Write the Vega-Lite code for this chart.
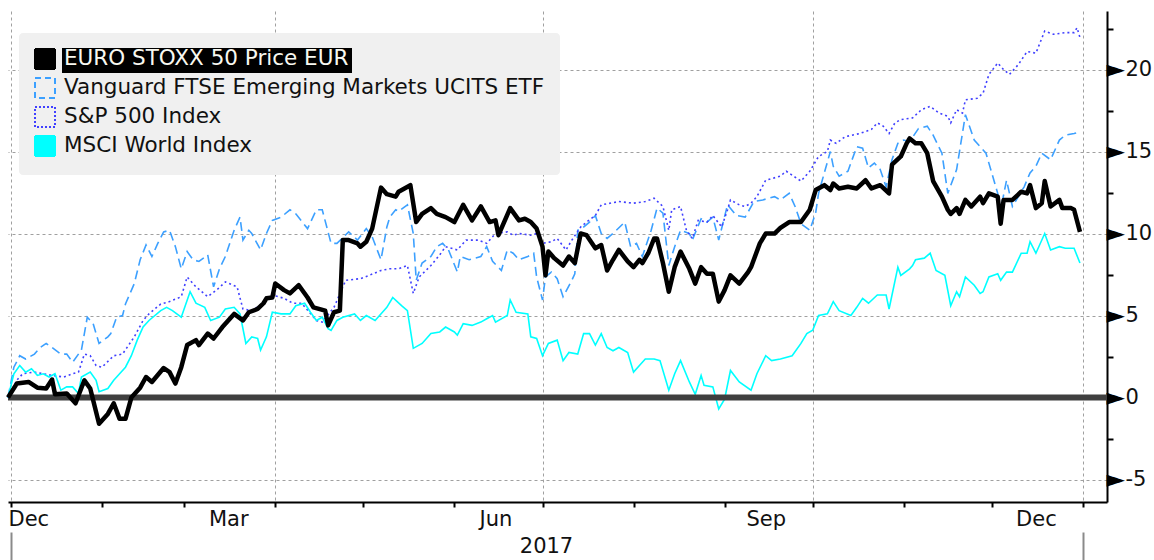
{
"$schema": "https://vega.github.io/schema/vega-lite/v6.json",
"autosize": {"type": "none"},
"padding": {"left": 8, "top": 11, "right": 47, "bottom": 58},
"width": 1099,
"height": 491,
"background": "white",
"config": {"view": {"stroke": null}, "font": "DejaVu Sans"},
"datasets": {
"esx": [{"date":"2016-12-31","pct":0},{"date":"2017-01-03","pct":0.85},{"date":"2017-01-07","pct":0.95},{"date":"2017-01-10","pct":0.6},{"date":"2017-01-13","pct":0.55},{"date":"2017-01-15","pct":1.1},{"date":"2017-01-16","pct":0.2},{"date":"2017-01-20","pct":0.25},{"date":"2017-01-23","pct":-0.35},{"date":"2017-01-26","pct":1.05},{"date":"2017-01-28","pct":0.55},{"date":"2017-01-31","pct":-1.6},{"date":"2017-02-03","pct":-1.0},{"date":"2017-02-05","pct":-0.35},{"date":"2017-02-07","pct":-1.3},{"date":"2017-02-09","pct":-1.3},{"date":"2017-02-11","pct":0.0},{"date":"2017-02-14","pct":0.6},{"date":"2017-02-16","pct":1.25},{"date":"2017-02-18","pct":0.95},{"date":"2017-02-22","pct":1.8},{"date":"2017-02-24","pct":1.55},{"date":"2017-02-26","pct":0.85},{"date":"2017-02-28","pct":1.85},{"date":"2017-03-02","pct":3.2},{"date":"2017-03-05","pct":3.5},{"date":"2017-03-06","pct":3.2},{"date":"2017-03-09","pct":3.9},{"date":"2017-03-11","pct":3.6},{"date":"2017-03-14","pct":4.3},{"date":"2017-03-16","pct":4.7},{"date":"2017-03-18","pct":5.1},{"date":"2017-03-21","pct":4.7},{"date":"2017-03-23","pct":5.2},{"date":"2017-03-26","pct":5.4},{"date":"2017-03-28","pct":5.75},{"date":"2017-03-29","pct":6.05},{"date":"2017-03-31","pct":6.1},{"date":"2017-04-01","pct":6.95},{"date":"2017-04-04","pct":6.55},{"date":"2017-04-06","pct":6.35},{"date":"2017-04-09","pct":6.85},{"date":"2017-04-12","pct":6.1},{"date":"2017-04-14","pct":5.5},{"date":"2017-04-18","pct":5.3},{"date":"2017-04-19","pct":4.4},{"date":"2017-04-21","pct":5.2},{"date":"2017-04-23","pct":5.3},{"date":"2017-04-24","pct":9.6},{"date":"2017-04-26","pct":9.6},{"date":"2017-04-29","pct":9.4},{"date":"2017-04-30","pct":9.2},{"date":"2017-05-02","pct":9.5},{"date":"2017-05-04","pct":10.3},{"date":"2017-05-07","pct":12.8},{"date":"2017-05-09","pct":12.4},{"date":"2017-05-12","pct":12.25},{"date":"2017-05-13","pct":12.55},{"date":"2017-05-17","pct":12.95},{"date":"2017-05-19","pct":10.7},{"date":"2017-05-21","pct":11.2},{"date":"2017-05-24","pct":11.55},{"date":"2017-05-26","pct":11.2},{"date":"2017-05-29","pct":11.0},{"date":"2017-06-01","pct":10.7},{"date":"2017-06-04","pct":11.75},{"date":"2017-06-07","pct":10.8},{"date":"2017-06-10","pct":11.65},{"date":"2017-06-13","pct":10.7},{"date":"2017-06-15","pct":10.8},{"date":"2017-06-16","pct":9.9},{"date":"2017-06-20","pct":11.55},{"date":"2017-06-23","pct":10.8},{"date":"2017-06-25","pct":10.9},{"date":"2017-06-27","pct":10.7},{"date":"2017-06-29","pct":10.3},{"date":"2017-07-01","pct":9.2},{"date":"2017-07-02","pct":7.45},{"date":"2017-07-03","pct":8.9},{"date":"2017-07-05","pct":8.5},{"date":"2017-07-08","pct":8.05},{"date":"2017-07-10","pct":8.6},{"date":"2017-07-12","pct":8.2},{"date":"2017-07-14","pct":10.0},{"date":"2017-07-16","pct":9.9},{"date":"2017-07-19","pct":9.1},{"date":"2017-07-21","pct":9.3},{"date":"2017-07-23","pct":7.75},{"date":"2017-07-25","pct":8.4},{"date":"2017-07-27","pct":9.0},{"date":"2017-07-30","pct":8.3},{"date":"2017-08-01","pct":7.95},{"date":"2017-08-03","pct":8.4},{"date":"2017-08-04","pct":8.2},{"date":"2017-08-06","pct":8.8},{"date":"2017-08-08","pct":9.7},{"date":"2017-08-09","pct":9.7},{"date":"2017-08-11","pct":8.2},{"date":"2017-08-13","pct":6.45},{"date":"2017-08-15","pct":7.95},{"date":"2017-08-17","pct":8.9},{"date":"2017-08-20","pct":7.85},{"date":"2017-08-22","pct":6.95},{"date":"2017-08-24","pct":7.95},{"date":"2017-08-26","pct":7.55},{"date":"2017-08-28","pct":7.55},{"date":"2017-08-30","pct":5.85},{"date":"2017-09-01","pct":6.55},{"date":"2017-09-03","pct":7.45},{"date":"2017-09-06","pct":6.95},{"date":"2017-09-09","pct":7.65},{"date":"2017-09-10","pct":7.95},{"date":"2017-09-13","pct":9.4},{"date":"2017-09-15","pct":10.0},{"date":"2017-09-18","pct":10.0},{"date":"2017-09-20","pct":10.35},{"date":"2017-09-23","pct":10.7},{"date":"2017-09-27","pct":10.7},{"date":"2017-09-30","pct":11.45},{"date":"2017-10-02","pct":12.65},{"date":"2017-10-04","pct":12.85},{"date":"2017-10-05","pct":12.95},{"date":"2017-10-07","pct":12.65},{"date":"2017-10-08","pct":13.05},{"date":"2017-10-10","pct":12.75},{"date":"2017-10-13","pct":12.85},{"date":"2017-10-16","pct":12.75},{"date":"2017-10-19","pct":13.25},{"date":"2017-10-21","pct":12.75},{"date":"2017-10-24","pct":12.95},{"date":"2017-10-27","pct":12.45},{"date":"2017-10-28","pct":14.2},{"date":"2017-10-31","pct":14.7},{"date":"2017-11-02","pct":15.5},{"date":"2017-11-03","pct":15.8},{"date":"2017-11-05","pct":15.5},{"date":"2017-11-07","pct":15.5},{"date":"2017-11-09","pct":14.9},{"date":"2017-11-11","pct":13.2},{"date":"2017-11-14","pct":12.25},{"date":"2017-11-16","pct":11.45},{"date":"2017-11-17","pct":11.2},{"date":"2017-11-19","pct":11.55},{"date":"2017-11-20","pct":11.2},{"date":"2017-11-22","pct":12.05},{"date":"2017-11-24","pct":11.65},{"date":"2017-11-27","pct":12.25},{"date":"2017-11-28","pct":11.85},{"date":"2017-11-30","pct":12.45},{"date":"2017-12-03","pct":12.25},{"date":"2017-12-04","pct":10.6},{"date":"2017-12-05","pct":12.05},{"date":"2017-12-08","pct":12.05},{"date":"2017-12-11","pct":12.55},{"date":"2017-12-13","pct":12.45},{"date":"2017-12-14","pct":12.95},{"date":"2017-12-16","pct":11.55},{"date":"2017-12-18","pct":11.85},{"date":"2017-12-19","pct":13.2},{"date":"2017-12-21","pct":11.65},{"date":"2017-12-24","pct":12.05},{"date":"2017-12-25","pct":11.55},{"date":"2017-12-28","pct":11.55},{"date":"2017-12-29","pct":11.45},{"date":"2017-12-31","pct":10.1}],
"vang": [{"date":"2016-12-31","pct":0},{"date":"2017-01-02","pct":1.85},{"date":"2017-01-04","pct":2.55},{"date":"2017-01-06","pct":2.35},{"date":"2017-01-09","pct":2.65},{"date":"2017-01-11","pct":3.05},{"date":"2017-01-13","pct":3.3},{"date":"2017-01-15","pct":3.05},{"date":"2017-01-18","pct":2.65},{"date":"2017-01-20","pct":2.65},{"date":"2017-01-22","pct":2.15},{"date":"2017-01-25","pct":2.9},{"date":"2017-01-27","pct":4.9},{"date":"2017-01-29","pct":4.5},{"date":"2017-01-31","pct":3.3},{"date":"2017-02-03","pct":3.7},{"date":"2017-02-04","pct":3.9},{"date":"2017-02-06","pct":4.9},{"date":"2017-02-08","pct":5.0},{"date":"2017-02-09","pct":5.7},{"date":"2017-02-12","pct":6.95},{"date":"2017-02-14","pct":8.4},{"date":"2017-02-16","pct":9.3},{"date":"2017-02-18","pct":8.6},{"date":"2017-02-20","pct":9.4},{"date":"2017-02-22","pct":10.1},{"date":"2017-02-24","pct":10.2},{"date":"2017-02-26","pct":9.2},{"date":"2017-02-28","pct":7.85},{"date":"2017-03-02","pct":8.9},{"date":"2017-03-04","pct":8.4},{"date":"2017-03-06","pct":8.3},{"date":"2017-03-09","pct":8.7},{"date":"2017-03-11","pct":6.75},{"date":"2017-03-13","pct":7.85},{"date":"2017-03-15","pct":8.6},{"date":"2017-03-18","pct":10.2},{"date":"2017-03-20","pct":11.0},{"date":"2017-03-21","pct":9.6},{"date":"2017-03-23","pct":10.2},{"date":"2017-03-24","pct":10.0},{"date":"2017-03-27","pct":9.0},{"date":"2017-03-29","pct":10.0},{"date":"2017-03-31","pct":10.8},{"date":"2017-04-03","pct":11.0},{"date":"2017-04-06","pct":11.45},{"date":"2017-04-08","pct":11.2},{"date":"2017-04-12","pct":10.3},{"date":"2017-04-15","pct":11.45},{"date":"2017-04-17","pct":11.45},{"date":"2017-04-20","pct":9.4},{"date":"2017-04-22","pct":9.4},{"date":"2017-04-26","pct":10.1},{"date":"2017-04-29","pct":9.6},{"date":"2017-05-02","pct":10.3},{"date":"2017-05-04","pct":9.8},{"date":"2017-05-07","pct":8.4},{"date":"2017-05-09","pct":10.4},{"date":"2017-05-10","pct":11.0},{"date":"2017-05-12","pct":11.45},{"date":"2017-05-13","pct":11.35},{"date":"2017-05-16","pct":11.75},{"date":"2017-05-18","pct":10.0},{"date":"2017-05-19","pct":7.15},{"date":"2017-05-21","pct":8.2},{"date":"2017-05-24","pct":8.6},{"date":"2017-05-26","pct":9.2},{"date":"2017-05-28","pct":9.4},{"date":"2017-05-30","pct":9.0},{"date":"2017-06-02","pct":7.65},{"date":"2017-06-03","pct":8.6},{"date":"2017-06-06","pct":8.4},{"date":"2017-06-10","pct":8.6},{"date":"2017-06-12","pct":9.2},{"date":"2017-06-14","pct":8.3},{"date":"2017-06-17","pct":7.75},{"date":"2017-06-19","pct":9.0},{"date":"2017-06-21","pct":8.8},{"date":"2017-06-23","pct":8.4},{"date":"2017-06-26","pct":8.6},{"date":"2017-06-28","pct":8.8},{"date":"2017-06-29","pct":7.35},{"date":"2017-07-01","pct":5.95},{"date":"2017-07-02","pct":7.35},{"date":"2017-07-04","pct":7.65},{"date":"2017-07-06","pct":7.25},{"date":"2017-07-08","pct":6.15},{"date":"2017-07-11","pct":7.15},{"date":"2017-07-12","pct":7.55},{"date":"2017-07-13","pct":10.2},{"date":"2017-07-15","pct":10.4},{"date":"2017-07-17","pct":10.7},{"date":"2017-07-19","pct":11.1},{"date":"2017-07-21","pct":10.0},{"date":"2017-07-23","pct":9.7},{"date":"2017-07-25","pct":10.0},{"date":"2017-07-29","pct":10.7},{"date":"2017-07-31","pct":9.2},{"date":"2017-08-02","pct":9.4},{"date":"2017-08-04","pct":8.6},{"date":"2017-08-07","pct":10.2},{"date":"2017-08-09","pct":11.55},{"date":"2017-08-11","pct":11.25},{"date":"2017-08-13","pct":8.05},{"date":"2017-08-15","pct":9.2},{"date":"2017-08-17","pct":10.2},{"date":"2017-08-20","pct":10.0},{"date":"2017-08-21","pct":9.6},{"date":"2017-08-24","pct":10.9},{"date":"2017-08-26","pct":10.7},{"date":"2017-08-28","pct":11.0},{"date":"2017-08-30","pct":9.6},{"date":"2017-09-02","pct":11.75},{"date":"2017-09-05","pct":11.1},{"date":"2017-09-08","pct":11.0},{"date":"2017-09-11","pct":11.95},{"date":"2017-09-14","pct":12.05},{"date":"2017-09-18","pct":12.25},{"date":"2017-09-20","pct":12.05},{"date":"2017-09-23","pct":12.45},{"date":"2017-09-25","pct":11.65},{"date":"2017-09-27","pct":10.6},{"date":"2017-09-30","pct":10.2},{"date":"2017-10-02","pct":11.25},{"date":"2017-10-03","pct":12.45},{"date":"2017-10-07","pct":15.0},{"date":"2017-10-08","pct":14.1},{"date":"2017-10-10","pct":13.5},{"date":"2017-10-13","pct":13.8},{"date":"2017-10-16","pct":15.3},{"date":"2017-10-18","pct":15.2},{"date":"2017-10-20","pct":14.0},{"date":"2017-10-22","pct":14.3},{"date":"2017-10-24","pct":13.9},{"date":"2017-10-26","pct":12.85},{"date":"2017-10-28","pct":14.5},{"date":"2017-10-30","pct":15.5},{"date":"2017-11-01","pct":15.7},{"date":"2017-11-03","pct":15.6},{"date":"2017-11-06","pct":16.4},{"date":"2017-11-09","pct":16.55},{"date":"2017-11-11","pct":16.0},{"date":"2017-11-14","pct":14.9},{"date":"2017-11-16","pct":12.45},{"date":"2017-11-19","pct":13.9},{"date":"2017-11-22","pct":17.25},{"date":"2017-11-25","pct":15.7},{"date":"2017-11-29","pct":14.9},{"date":"2017-12-03","pct":12.45},{"date":"2017-12-04","pct":11.45},{"date":"2017-12-06","pct":13.25},{"date":"2017-12-08","pct":11.65},{"date":"2017-12-12","pct":12.85},{"date":"2017-12-14","pct":13.7},{"date":"2017-12-16","pct":14.1},{"date":"2017-12-18","pct":14.9},{"date":"2017-12-21","pct":14.5},{"date":"2017-12-24","pct":15.7},{"date":"2017-12-26","pct":16.0},{"date":"2017-12-29","pct":16.1},{"date":"2017-12-31","pct":16.2}],
"sp": [{"date":"2016-12-31","pct":0},{"date":"2017-01-03","pct":1.05},{"date":"2017-01-05","pct":1.45},{"date":"2017-01-09","pct":1.55},{"date":"2017-01-12","pct":1.45},{"date":"2017-01-15","pct":1.35},{"date":"2017-01-19","pct":1.25},{"date":"2017-01-22","pct":1.45},{"date":"2017-01-24","pct":1.55},{"date":"2017-01-26","pct":2.65},{"date":"2017-01-28","pct":2.55},{"date":"2017-01-30","pct":1.95},{"date":"2017-02-01","pct":1.85},{"date":"2017-02-05","pct":2.55},{"date":"2017-02-08","pct":2.65},{"date":"2017-02-12","pct":3.7},{"date":"2017-02-15","pct":4.7},{"date":"2017-02-17","pct":5.1},{"date":"2017-02-21","pct":5.7},{"date":"2017-02-24","pct":5.85},{"date":"2017-02-28","pct":6.15},{"date":"2017-03-02","pct":7.35},{"date":"2017-03-05","pct":6.75},{"date":"2017-03-09","pct":6.15},{"date":"2017-03-12","pct":6.55},{"date":"2017-03-15","pct":7.05},{"date":"2017-03-19","pct":6.75},{"date":"2017-03-21","pct":5.4},{"date":"2017-03-24","pct":5.3},{"date":"2017-03-28","pct":5.75},{"date":"2017-03-31","pct":6.25},{"date":"2017-04-04","pct":6.05},{"date":"2017-04-07","pct":5.75},{"date":"2017-04-10","pct":5.75},{"date":"2017-04-15","pct":4.7},{"date":"2017-04-17","pct":4.6},{"date":"2017-04-21","pct":5.5},{"date":"2017-04-25","pct":7.15},{"date":"2017-04-30","pct":7.25},{"date":"2017-05-03","pct":7.45},{"date":"2017-05-07","pct":7.75},{"date":"2017-05-10","pct":7.85},{"date":"2017-05-13","pct":7.85},{"date":"2017-05-16","pct":8.05},{"date":"2017-05-18","pct":6.35},{"date":"2017-05-20","pct":7.35},{"date":"2017-05-24","pct":8.05},{"date":"2017-05-27","pct":8.7},{"date":"2017-05-29","pct":9.2},{"date":"2017-06-02","pct":9.0},{"date":"2017-06-05","pct":9.6},{"date":"2017-06-09","pct":9.6},{"date":"2017-06-12","pct":9.4},{"date":"2017-06-15","pct":10.0},{"date":"2017-06-19","pct":10.1},{"date":"2017-06-21","pct":9.9},{"date":"2017-06-23","pct":10.0},{"date":"2017-06-27","pct":9.9},{"date":"2017-06-29","pct":10.0},{"date":"2017-07-01","pct":9.4},{"date":"2017-07-04","pct":9.5},{"date":"2017-07-06","pct":9.7},{"date":"2017-07-09","pct":9.0},{"date":"2017-07-11","pct":9.6},{"date":"2017-07-14","pct":10.4},{"date":"2017-07-16","pct":10.7},{"date":"2017-07-19","pct":11.1},{"date":"2017-07-21","pct":11.75},{"date":"2017-07-24","pct":11.85},{"date":"2017-07-27","pct":11.95},{"date":"2017-08-01","pct":11.85},{"date":"2017-08-05","pct":11.95},{"date":"2017-08-08","pct":12.15},{"date":"2017-08-11","pct":11.65},{"date":"2017-08-13","pct":10.2},{"date":"2017-08-14","pct":11.45},{"date":"2017-08-17","pct":11.65},{"date":"2017-08-19","pct":10.2},{"date":"2017-08-21","pct":9.7},{"date":"2017-08-23","pct":10.8},{"date":"2017-08-26","pct":10.7},{"date":"2017-08-28","pct":11.1},{"date":"2017-08-31","pct":10.4},{"date":"2017-09-02","pct":11.45},{"date":"2017-09-03","pct":12.05},{"date":"2017-09-06","pct":11.75},{"date":"2017-09-08","pct":11.65},{"date":"2017-09-10","pct":11.85},{"date":"2017-09-12","pct":12.25},{"date":"2017-09-15","pct":13.25},{"date":"2017-09-20","pct":13.5},{"date":"2017-09-22","pct":13.8},{"date":"2017-09-27","pct":13.2},{"date":"2017-09-30","pct":13.8},{"date":"2017-10-03","pct":14.7},{"date":"2017-10-06","pct":15.0},{"date":"2017-10-07","pct":15.7},{"date":"2017-10-09","pct":15.5},{"date":"2017-10-12","pct":15.9},{"date":"2017-10-17","pct":16.1},{"date":"2017-10-21","pct":16.35},{"date":"2017-10-23","pct":16.75},{"date":"2017-10-25","pct":16.55},{"date":"2017-10-27","pct":16.1},{"date":"2017-10-29","pct":16.75},{"date":"2017-10-31","pct":16.95},{"date":"2017-11-04","pct":17.05},{"date":"2017-11-07","pct":17.55},{"date":"2017-11-10","pct":17.75},{"date":"2017-11-13","pct":17.35},{"date":"2017-11-16","pct":17.15},{"date":"2017-11-17","pct":16.75},{"date":"2017-11-19","pct":17.55},{"date":"2017-11-21","pct":17.35},{"date":"2017-11-22","pct":18.15},{"date":"2017-11-26","pct":18.25},{"date":"2017-11-28","pct":18.55},{"date":"2017-11-30","pct":19.7},{"date":"2017-12-03","pct":20.4},{"date":"2017-12-05","pct":20.0},{"date":"2017-12-07","pct":19.7},{"date":"2017-12-10","pct":20.3},{"date":"2017-12-13","pct":21.1},{"date":"2017-12-16","pct":21.0},{"date":"2017-12-19","pct":22.35},{"date":"2017-12-22","pct":22.15},{"date":"2017-12-26","pct":22.25},{"date":"2017-12-29","pct":22.25},{"date":"2017-12-30","pct":22.55},{"date":"2017-12-31","pct":21.95}],
"msci": [{"date":"2016-12-31","pct":0},{"date":"2017-01-02","pct":1.45},{"date":"2017-01-04","pct":1.95},{"date":"2017-01-06","pct":1.55},{"date":"2017-01-08","pct":1.75},{"date":"2017-01-10","pct":1.35},{"date":"2017-01-12","pct":1.45},{"date":"2017-01-14","pct":1.25},{"date":"2017-01-16","pct":1.45},{"date":"2017-01-18","pct":0.45},{"date":"2017-01-20","pct":0.65},{"date":"2017-01-22","pct":0.65},{"date":"2017-01-24","pct":0.25},{"date":"2017-01-25","pct":1.25},{"date":"2017-01-28","pct":1.55},{"date":"2017-01-30","pct":1.05},{"date":"2017-01-31","pct":0.35},{"date":"2017-02-03","pct":0.55},{"date":"2017-02-05","pct":1.05},{"date":"2017-02-07","pct":1.45},{"date":"2017-02-09","pct":1.85},{"date":"2017-02-11","pct":2.55},{"date":"2017-02-13","pct":3.5},{"date":"2017-02-15","pct":4.3},{"date":"2017-02-17","pct":4.7},{"date":"2017-02-21","pct":5.3},{"date":"2017-02-23","pct":5.5},{"date":"2017-02-25","pct":5.3},{"date":"2017-02-28","pct":4.9},{"date":"2017-03-03","pct":6.45},{"date":"2017-03-05","pct":5.75},{"date":"2017-03-08","pct":5.5},{"date":"2017-03-10","pct":4.7},{"date":"2017-03-13","pct":4.9},{"date":"2017-03-15","pct":5.4},{"date":"2017-03-18","pct":5.5},{"date":"2017-03-20","pct":5.1},{"date":"2017-03-22","pct":3.3},{"date":"2017-03-24","pct":3.7},{"date":"2017-03-26","pct":3.6},{"date":"2017-03-27","pct":2.9},{"date":"2017-03-29","pct":3.7},{"date":"2017-03-31","pct":5.2},{"date":"2017-04-03","pct":5.1},{"date":"2017-04-06","pct":5.1},{"date":"2017-04-08","pct":5.6},{"date":"2017-04-11","pct":5.75},{"date":"2017-04-13","pct":5.2},{"date":"2017-04-15","pct":4.7},{"date":"2017-04-17","pct":4.9},{"date":"2017-04-19","pct":4.2},{"date":"2017-04-20","pct":4.1},{"date":"2017-04-22","pct":4.7},{"date":"2017-04-24","pct":4.9},{"date":"2017-04-28","pct":5.1},{"date":"2017-04-30","pct":4.7},{"date":"2017-05-02","pct":5.0},{"date":"2017-05-05","pct":4.7},{"date":"2017-05-09","pct":5.5},{"date":"2017-05-11","pct":6.1},{"date":"2017-05-14","pct":5.6},{"date":"2017-05-16","pct":5.3},{"date":"2017-05-18","pct":3.0},{"date":"2017-05-21","pct":3.3},{"date":"2017-05-24","pct":3.9},{"date":"2017-05-27","pct":4.0},{"date":"2017-05-29","pct":4.3},{"date":"2017-06-01","pct":4.0},{"date":"2017-06-02","pct":3.8},{"date":"2017-06-04","pct":4.5},{"date":"2017-06-07","pct":4.4},{"date":"2017-06-10","pct":4.6},{"date":"2017-06-12","pct":4.8},{"date":"2017-06-14","pct":5.0},{"date":"2017-06-15","pct":4.6},{"date":"2017-06-19","pct":5.0},{"date":"2017-06-20","pct":5.95},{"date":"2017-06-22","pct":5.2},{"date":"2017-06-26","pct":5.1},{"date":"2017-06-27","pct":3.7},{"date":"2017-06-29","pct":3.6},{"date":"2017-07-01","pct":2.55},{"date":"2017-07-03","pct":3.3},{"date":"2017-07-06","pct":3.5},{"date":"2017-07-08","pct":2.25},{"date":"2017-07-10","pct":2.75},{"date":"2017-07-13","pct":2.65},{"date":"2017-07-15","pct":3.9},{"date":"2017-07-17","pct":3.9},{"date":"2017-07-19","pct":3.2},{"date":"2017-07-21","pct":3.9},{"date":"2017-07-23","pct":3.05},{"date":"2017-07-25","pct":2.85},{"date":"2017-07-27","pct":3.05},{"date":"2017-07-30","pct":2.75},{"date":"2017-08-01","pct":1.55},{"date":"2017-08-03","pct":1.95},{"date":"2017-08-05","pct":2.35},{"date":"2017-08-08","pct":2.35},{"date":"2017-08-10","pct":2.25},{"date":"2017-08-13","pct":0.45},{"date":"2017-08-15","pct":1.45},{"date":"2017-08-17","pct":2.25},{"date":"2017-08-20","pct":0.95},{"date":"2017-08-22","pct":0.2},{"date":"2017-08-24","pct":1.35},{"date":"2017-08-25","pct":0.75},{"date":"2017-08-28","pct":0.65},{"date":"2017-08-30","pct":-0.7},{"date":"2017-09-01","pct":-0.1},{"date":"2017-09-03","pct":1.65},{"date":"2017-09-06","pct":0.95},{"date":"2017-09-10","pct":0.45},{"date":"2017-09-12","pct":1.45},{"date":"2017-09-15","pct":2.55},{"date":"2017-09-17","pct":2.25},{"date":"2017-09-20","pct":2.35},{"date":"2017-09-24","pct":2.55},{"date":"2017-09-27","pct":3.3},{"date":"2017-09-29","pct":3.9},{"date":"2017-10-01","pct":4.1},{"date":"2017-10-03","pct":5.0},{"date":"2017-10-06","pct":5.1},{"date":"2017-10-08","pct":5.85},{"date":"2017-10-10","pct":5.3},{"date":"2017-10-14","pct":5.0},{"date":"2017-10-16","pct":5.5},{"date":"2017-10-18","pct":6.05},{"date":"2017-10-20","pct":5.75},{"date":"2017-10-23","pct":6.25},{"date":"2017-10-26","pct":6.25},{"date":"2017-10-27","pct":5.4},{"date":"2017-10-30","pct":7.95},{"date":"2017-10-31","pct":7.45},{"date":"2017-11-03","pct":7.85},{"date":"2017-11-04","pct":8.05},{"date":"2017-11-05","pct":8.4},{"date":"2017-11-08","pct":8.5},{"date":"2017-11-10","pct":8.8},{"date":"2017-11-12","pct":7.75},{"date":"2017-11-15","pct":7.45},{"date":"2017-11-17","pct":5.6},{"date":"2017-11-19","pct":6.45},{"date":"2017-11-20","pct":6.15},{"date":"2017-11-22","pct":7.35},{"date":"2017-11-25","pct":6.85},{"date":"2017-11-27","pct":6.35},{"date":"2017-11-28","pct":6.45},{"date":"2017-11-30","pct":7.35},{"date":"2017-12-03","pct":7.55},{"date":"2017-12-04","pct":7.15},{"date":"2017-12-06","pct":7.65},{"date":"2017-12-08","pct":7.65},{"date":"2017-12-11","pct":8.8},{"date":"2017-12-13","pct":8.8},{"date":"2017-12-14","pct":9.5},{"date":"2017-12-16","pct":8.8},{"date":"2017-12-19","pct":10.0},{"date":"2017-12-21","pct":9.0},{"date":"2017-12-24","pct":9.2},{"date":"2017-12-26","pct":9.1},{"date":"2017-12-29","pct":9.1},{"date":"2017-12-31","pct":8.2}]
},
"layer": [
{
"data": {"name": "vang"},
"mark": {"type": "line", "strokeWidth": 1.6, "strokeDash": [9, 5], "strokeCap": "butt"},
"encoding": {
"x": {"field": "date", "type": "temporal",
"scale": {"type": "utc", "domain": [{"year": 2016, "month": 12, "date": 31, "utc": true}, {"year": 2018, "month": 1, "date": 9, "hours": 5, "utc": true}]},
"axis": {"orient": "bottom", "values": [{"year": 2017, "month": 1, "date": 1, "utc": true}, {"year": 2017, "month": 4, "date": 1, "utc": true}, {"year": 2017, "month": 7, "date": 1, "utc": true}, {"year": 2017, "month": 10, "date": 1, "utc": true}, {"year": 2018, "month": 1, "date": 1, "utc": true}],
"grid": true, "gridColor": "#a0a0a0", "gridDash": [3, 3], "gridWidth": 1, "ticks": false, "tickSize": 0, "labels": false, "domain": true, "domainColor": "#000000", "domainWidth": 2, "title": null}},
"y": {"field": "pct", "type": "quantitative",
"scale": {"domain": [-6.37, 23.57], "nice": false, "zero": false},
"axis": {"orient": "right", "values": [-5, 0, 5, 10, 15, 20], "grid": true, "gridColor": "#a0a0a0", "gridDash": [3, 3], "gridWidth": 1, "ticks": false, "tickSize": 0, "domain": true, "domainColor": "#000000", "domainWidth": 2,
"labelExpr": "datum.value < 0 ? '-' + abs(datum.value) : '' + datum.value", "labelFont": "DejaVu Sans", "labelFontSize": 21, "labelColor": "#111111", "labelPadding": 18, "labelBaseline": "middle", "labelAlign": "left", "title": null}},
"color": {"datum": "Vanguard FTSE Emerging Markets UCITS ETF", "type": "nominal"}
}
},
{
"data": {"name": "sp"},
"mark": {"type": "line", "strokeWidth": 1.6, "strokeDash": [2, 3], "strokeCap": "butt"},
"encoding": {
"x": {"field": "date", "type": "temporal",
"scale": {"type": "utc", "domain": [{"year": 2016, "month": 12, "date": 31, "utc": true}, {"year": 2018, "month": 1, "date": 9, "hours": 5, "utc": true}]},
"axis": {"orient": "bottom", "values": [{"year": 2017, "month": 1, "date": 1, "utc": true}, {"year": 2017, "month": 2, "date": 1, "utc": true}, {"year": 2017, "month": 3, "date": 1, "utc": true}, {"year": 2017, "month": 4, "date": 1, "utc": true}, {"year": 2017, "month": 5, "date": 1, "utc": true}, {"year": 2017, "month": 6, "date": 1, "utc": true}, {"year": 2017, "month": 7, "date": 1, "utc": true}, {"year": 2017, "month": 8, "date": 1, "utc": true}, {"year": 2017, "month": 9, "date": 1, "utc": true}, {"year": 2017, "month": 10, "date": 1, "utc": true}, {"year": 2017, "month": 11, "date": 1, "utc": true}, {"year": 2017, "month": 12, "date": 1, "utc": true}, {"year": 2018, "month": 1, "date": 1, "utc": true}],
"grid": false, "ticks": true, "tickSize": 5, "tickWidth": 2, "tickColor": "#000000", "labels": false, "domain": false, "title": null}},
"y": {"field": "pct", "type": "quantitative",
"scale": {"domain": [-6.37, 23.57], "nice": false, "zero": false},
"axis": {"orient": "right", "values": [-2.5, 2.5, 7.5, 12.5, 17.5, 22.5], "grid": false, "ticks": true, "tickSize": 6, "tickWidth": 2, "tickColor": "#000000", "labels": false, "domain": false, "title": null}},
"color": {"datum": "S&P 500 Index", "type": "nominal"}
}
},
{
"data": {"name": "msci"},
"mark": {"type": "line", "strokeWidth": 1.6},
"encoding": {
"x": {"field": "date", "type": "temporal",
"scale": {"type": "utc", "domain": [{"year": 2016, "month": 12, "date": 31, "utc": true}, {"year": 2018, "month": 1, "date": 9, "hours": 5, "utc": true}]},
"axis": {"orient": "bottom", "values": [{"year": 2016, "month": 12, "date": 31, "utc": true}, {"year": 2017, "month": 3, "date": 16, "utc": true}, {"year": 2017, "month": 6, "date": 15, "utc": true}, {"year": 2017, "month": 9, "date": 15, "utc": true}, {"year": 2017, "month": 12, "date": 16, "utc": true}],
"labelExpr": "utcFormat(datum.value, '%b')", "labelFlush": true, "labelFont": "DejaVu Sans", "labelFontSize": 21, "labelColor": "#111111", "labelPadding": 6,
"grid": false, "ticks": false, "tickSize": 0, "domain": false,
"title": "2017", "titleFont": "DejaVu Sans", "titleFontSize": 21, "titleFontWeight": "normal", "titleColor": "#111111", "titlePadding": 6, "titleX": 538}},
"y": {"field": "pct", "type": "quantitative",
"scale": {"domain": [-6.37, 23.57], "nice": false, "zero": false},
"axis": {"orient": "right", "values": [-5, 0, 5, 10, 15, 20], "grid": false, "ticks": false, "tickSize": 0, "domain": false,
"labelExpr": "'►'", "labelFont": "DejaVu Sans", "labelFontSize": 24, "labelColor": "#000000", "labelPadding": -1, "labelBaseline": "middle", "labelAlign": "left", "title": null}},
"color": {"datum": "MSCI World Index", "type": "nominal"}
}
},
{
"data": {"values": [{}]},
"mark": {"type": "rule", "color": "#3f3f3f", "strokeWidth": 6},
"encoding": {
"y": {"datum": 0, "type": "quantitative", "scale": {"domain": [-6.37, 23.57], "nice": false, "zero": false}, "axis": null}
}
},
{
"data": {"name": "esx"},
"mark": {"type": "line", "strokeWidth": 4.5, "strokeJoin": "round"},
"encoding": {
"x": {"field": "date", "type": "temporal",
"scale": {"type": "utc", "domain": [{"year": 2016, "month": 12, "date": 31, "utc": true}, {"year": 2018, "month": 1, "date": 9, "hours": 5, "utc": true}]},
"axis": {"orient": "bottom", "offset": 30, "values": [{"year": 2017, "month": 1, "date": 1, "utc": true}, {"year": 2018, "month": 1, "date": 1, "utc": true}],
"grid": false, "ticks": true, "tickSize": 29, "tickWidth": 2, "tickColor": "#8a8a8a", "labels": false, "domain": false, "title": null}},
"y": {"field": "pct", "type": "quantitative",
"scale": {"domain": [-6.37, 23.57], "nice": false, "zero": false}, "axis": null},
"color": {"datum": "EURO STOXX 50 Price EUR", "type": "nominal",
"scale": {"domain": ["EURO STOXX 50 Price EUR", "Vanguard FTSE Emerging Markets UCITS ETF", "S&P 500 Index", "MSCI World Index"], "range": ["#000000", "#3ca0ff", "#4040ff", "#00ffff"]},
"legend": {"orient": "none", "legendX": 11, "legendY": 22, "title": null, "direction": "vertical", "gridAlign": "none",
"symbolType": "square", "symbolSize": 400, "symbolStrokeWidth": 2,
"labelFont": "DejaVu Sans", "labelFontSize": 21.5, "labelColor": "#111111", "labelOffset": 8, "labelLimit": 700,
"rowPadding": 1, "padding": 15, "fillColor": "#f0f0f0", "cornerRadius": 4,
"encode": {
"symbols": {"update": {
"fill": {"signal": "datum.index === 0 ? '#000000' : (datum.index === 3 ? '#00ffff' : 'transparent')"},
"stroke": {"signal": "datum.index === 0 ? '#000000' : (datum.index === 1 ? '#3ca0ff' : (datum.index === 2 ? '#4040ff' : '#00ffff'))"},
"strokeDash": {"signal": "datum.index === 1 ? [6, 4] : (datum.index === 2 ? [2, 2] : [1, 0])"},
"strokeWidth": {"value": 2}}},
"labels": {"update": {"fill": {"signal": "datum.index === 0 ? '#f8f8f0' : '#111111'"}}},
"entries": {"update": {"fill": {"signal": "datum.index === 0 ? {gradient: 'linear', x1: 0, y1: 0, x2: 1, y2: 0, stops: [{offset: 0, color: 'rgba(0,0,0,0)'}, {offset: 0.055, color: 'rgba(0,0,0,0)'}, {offset: 0.055, color: '#000000'}, {offset: 0.624, color: '#000000'}, {offset: 0.624, color: 'rgba(0,0,0,0)'}, {offset: 1, color: 'rgba(0,0,0,0)'}]} : 'transparent'"}}}
}}
}
}
}
],
"resolve": {"axis": {"x": "independent", "y": "independent"}}
}
